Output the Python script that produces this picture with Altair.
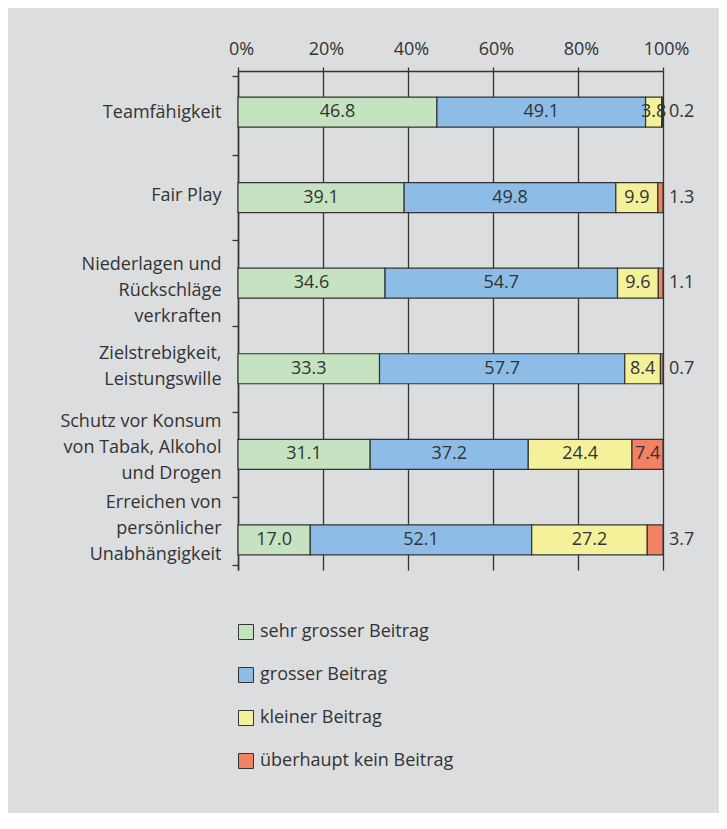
import json
import altair as alt
import pandas as pd

categories = [
    "Teamfähigkeit",
    "Fair Play",
    "Niederlagen und\nRückschläge\nverkraften",
    "Zielstrebigkeit,\nLeistungswille",
    "Schutz vor Konsum\nvon Tabak, Alkohol\nund Drogen",
    "Erreichen von\npersönlicher\nUnabhängigkeit",
]
series_names = [
    "sehr grosser Beitrag",
    "grosser Beitrag",
    "kleiner Beitrag",
    "überhaupt kein Beitrag",
]
sehr_gross = [46.8, 39.1, 34.6, 33.3, 31.1, 17.0]
gross = [49.1, 49.8, 54.7, 57.7, 37.2, 52.1]
klein = [3.8, 9.9, 9.6, 8.4, 24.4, 27.2]
kein = [0.2, 1.3, 1.1, 0.7, 7.4, 3.7]
x_ticks = [0, 20, 40, 60, 80, 100]

colors = ["#c5e3c0", "#8dbde6", "#f4f19b", "#f28262"]
INK = "#333333"
FONT = "Open Sans"
FS = 18
FW = "normal"
BG = "#dcdddf"

rows = []
for s_i, (name, vals) in enumerate(zip(series_names, [sehr_gross, gross, klein, kein])):
    for c_i, v in enumerate(vals):
        rows.append(dict(cat=categories[c_i], idx=c_i, series=name, order=s_i, value=v))
df = pd.DataFrame(rows)

y_lo, y_hi = -0.4215, 5.294
ysc = alt.Scale(domain=[y_lo, y_hi], reverse=True, nice=False, zero=False)
xsc = alt.Scale(domain=[0, 100], nice=False, clamp=True)

label_arr = json.dumps([c.replace("\n", "|") for c in categories], ensure_ascii=False)
label_expr = f"datum.value == floor(datum.value) ? split({label_arr}[datum.value], '|') : ''"

# vertical shift of the (multi-line) category labels, in pixels
label_shift = [0, -2, -19, -15, -33, -37]
label_offset = {
    "condition": [{"test": f"datum.value == {i}", "value": s} for i, s in enumerate(label_shift) if s != 0],
    "value": 0,
}

y_values = [y_lo] + [i * 0.5 for i in range(11)] + [y_hi]

xaxis = alt.Axis(
    orient="top", values=x_ticks, labelExpr="datum.value + '%'", title=None,
    labelFontSize=FS, labelFontWeight=FW, labelColor=INK, labelFont=FONT, labelFlush=False,
    labelPadding=9, labelOffset=3, tickSize=4, tickColor=INK, tickWidth=1.3,
    domainColor=INK, domainWidth=1.5, grid=True, gridColor=INK, gridWidth=1.3,
)
yaxis = alt.Axis(
    values=y_values, labelExpr=label_expr, title=None,
    labelFontSize=FS, labelFontWeight=FW, labelColor=INK, labelFont=FONT, labelAlign="right",
    labelBaseline="middle", labelLineHeight=26, labelPadding=11, labelLimit=0,
    labelOffset=label_offset,
    labelOverlap=False, tickSize=6, tickColor=INK, tickWidth=1.3,
    tickOpacity={"condition": {"test": "datum.value == floor(datum.value)", "value": 0}, "value": 1},
    domainColor=INK, domainWidth=1.5, grid=False,
)

base = alt.Chart(df)

bars = base.mark_bar(size=30, stroke=INK, strokeWidth=1.2, orient="horizontal").encode(
    x=alt.X("value:Q", stack="zero", scale=xsc, axis=xaxis),
    y=alt.Y("idx:Q", scale=ysc, axis=yaxis),
    color=alt.Color(
        "series:N",
        scale=alt.Scale(domain=series_names, range=colors),
        legend=alt.Legend(
            title=None, orient="none", legendX=-1, legendY=552, direction="vertical",
            symbolType="square", symbolSize=225, symbolStrokeColor=INK,
            symbolStrokeWidth=1, symbolOpacity=1, labelFontSize=FS, labelFontWeight=FW,
            labelColor=INK, labelFont=FONT, labelOffset=5, rowPadding=23, padding=0,
            labelLimit=0,
        ),
    ),
    order=alt.Order("order:Q"),
)

text_base = base.transform_stack(
    stack="value", groupby=["idx"], sort=[alt.SortField("order")], as_=["x0", "x1"]
).transform_calculate(mid="(datum.x0 + datum.x1) / 2")

inside = text_base.transform_filter("!(datum.order == 3 && datum.value < 5)").mark_text(
    fontSize=FS, fontWeight=FW, color=INK, font=FONT, baseline="middle"
).encode(
    x=alt.X("mid:Q", title=None),
    y=alt.Y("idx:Q", title=None),
    text=alt.Text("value:Q", format=".1f"),
)

outside = text_base.transform_filter("datum.order == 3 && datum.value < 5").mark_text(
    fontSize=FS, fontWeight=FW, color=INK, font=FONT, baseline="middle", align="left", dx=6
).encode(
    x=alt.datum(100),
    y=alt.Y("idx:Q", title=None),
    text=alt.Text("value:Q", format=".1f"),
)

chart = alt.layer(bars, inside, outside).properties(
    width=425, height=499,
    autosize=alt.AutoSizeParams(type="none"),
    padding={"left": 230, "top": 63, "right": 56, "bottom": 243},
    background=BG,
).configure_view(stroke=INK, strokeWidth=1.3).configure(font=FONT)

chart.save("out.html", embed_options={"renderer": "svg", "actions": False})
